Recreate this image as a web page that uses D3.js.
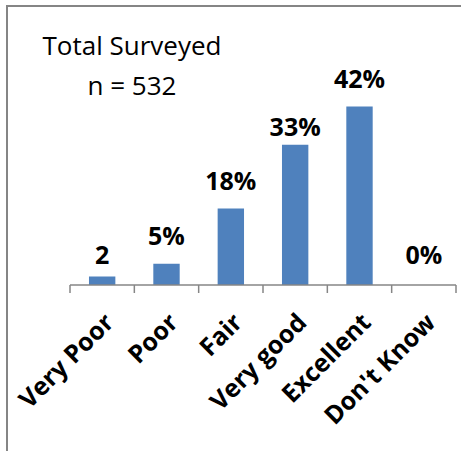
<!DOCTYPE html>
<html>
<head>
<meta charset="utf-8">
<script src="https://cdn.jsdelivr.net/npm/d3@7"></script>
<style>
  html, body { margin: 0; padding: 0; background: #fff; }
  svg { display: block; }
</style>
</head>
<body>
<svg id="chart" width="461" height="451"></svg>
<script>
const categories = ["Very Poor", "Poor", "Fair", "Very good", "Excellent", "Don't Know"];
const values = [2, 5, 18, 33, 42, 0];
const valueLabels = ["2", "5%", "18%", "33%", "42%", "0%"];
const titleLines = ["Total Surveyed", "n = 532"];

// layout: gap (px) between each bar top and its label baseline, as placed in the original
const labelGaps = [13, 19, 19, 9, 19, 21];

const svg = d3.select("#chart");
const font = "'Open Sans', 'Liberation Sans', Arial, sans-serif";

// frame (top and left edges visible)
svg.append("path")
  .attr("d", "M7,451 V6 H461")
  .attr("fill", "none")
  .attr("stroke", "#858585")
  .attr("stroke-width", 2);

const x = d3.scaleBand().domain(categories).range([70, 456]).paddingInner(0.59).paddingOuter(0.295);
const y = d3.scaleLinear().domain([0, 50]).range([285, 72.5]);

// bars
svg.selectAll("rect.bar").data(values).join("rect")
  .attr("class", "bar")
  .attr("x", (d, i) => x(categories[i]))
  .attr("y", d => y(d))
  .attr("width", x.bandwidth())
  .attr("height", d => y(0) - y(d))
  .attr("fill", "#4f81bd");

// x axis
const axis = d3.axisBottom(x).tickSize(0).tickFormat("");
const ag = svg.append("g").attr("transform", "translate(0,285)").call(axis);
ag.select(".domain").attr("stroke", "#868686").attr("stroke-width", 1.5).attr("d", "M70,0H456");
const tickPos = d3.range(categories.length + 1).map(i => 70 + i * (386 / categories.length));
ag.selectAll("line.sep").data(tickPos).join("line")
  .attr("class", "sep")
  .attr("x1", d => d).attr("x2", d => d)
  .attr("y1", 0).attr("y2", 8)
  .attr("stroke", "#868686").attr("stroke-width", 1.5);

// category labels rotated
svg.selectAll("text.cat").data(categories).join("text")
  .attr("class", "cat")
  .attr("transform", d => `translate(${x(d) + x.bandwidth() / 2 + 13},${324}) rotate(-45)`)
  .attr("text-anchor", "end")
  .attr("font-family", font)
  .attr("font-weight", "bold")
  .attr("font-size", 25)
  .attr("fill", "#000")
  .text(d => d);

// value labels
svg.selectAll("text.val").data(values).join("text")
  .attr("class", "val")
  .attr("x", (d, i) => x(categories[i]) + x.bandwidth() / 2)
  .attr("y", (d, i) => y(d) - labelGaps[i])
  .attr("text-anchor", "middle")
  .attr("font-family", font)
  .attr("font-weight", "bold")
  .attr("font-size", 25)
  .attr("fill", "#000")
  .text((d, i) => valueLabels[i]);

// title
svg.selectAll("text.title").data(titleLines).join("text")
  .attr("class", "title")
  .attr("x", 132)
  .attr("y", (d, i) => 55 + i * 40)
  .attr("text-anchor", "middle")
  .attr("font-family", font)
  .attr("font-size", 26)
  .attr("fill", "#000")
  .text(d => d);
</script>
</body>
</html>
